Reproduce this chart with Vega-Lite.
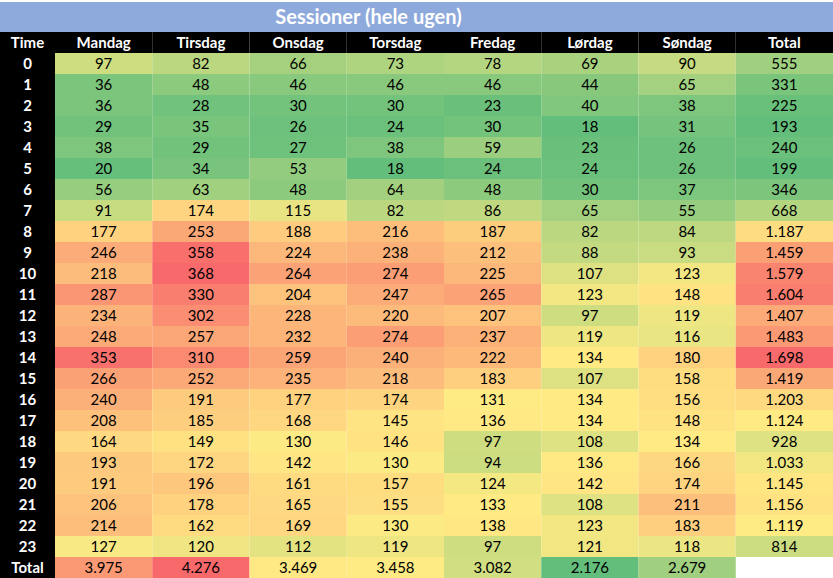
{
  "$schema": "https://vega.github.io/schema/vega-lite/v6.json",
  "background": "white",
  "padding": {"top": 2, "left": 0, "right": 0, "bottom": 0},
  "config": {
    "view": {"stroke": null},
    "font": "Lato",
    "locale": {"number": {"decimal": ",", "thousands": ".", "grouping": [3], "currency": ["", " kr"]}}
  },
  "datasets": {
    "tab": [
      {"row": "0", "Mandag": 97, "Tirsdag": 82, "Onsdag": 66, "Torsdag": 73, "Fredag": 78, "Lørdag": 69, "Søndag": 90, "Total": 555},
      {"row": "1", "Mandag": 36, "Tirsdag": 48, "Onsdag": 46, "Torsdag": 46, "Fredag": 46, "Lørdag": 44, "Søndag": 65, "Total": 331},
      {"row": "2", "Mandag": 36, "Tirsdag": 28, "Onsdag": 30, "Torsdag": 30, "Fredag": 23, "Lørdag": 40, "Søndag": 38, "Total": 225},
      {"row": "3", "Mandag": 29, "Tirsdag": 35, "Onsdag": 26, "Torsdag": 24, "Fredag": 30, "Lørdag": 18, "Søndag": 31, "Total": 193},
      {"row": "4", "Mandag": 38, "Tirsdag": 29, "Onsdag": 27, "Torsdag": 38, "Fredag": 59, "Lørdag": 23, "Søndag": 26, "Total": 240},
      {"row": "5", "Mandag": 20, "Tirsdag": 34, "Onsdag": 53, "Torsdag": 18, "Fredag": 24, "Lørdag": 24, "Søndag": 26, "Total": 199},
      {"row": "6", "Mandag": 56, "Tirsdag": 63, "Onsdag": 48, "Torsdag": 64, "Fredag": 48, "Lørdag": 30, "Søndag": 37, "Total": 346},
      {"row": "7", "Mandag": 91, "Tirsdag": 174, "Onsdag": 115, "Torsdag": 82, "Fredag": 86, "Lørdag": 65, "Søndag": 55, "Total": 668},
      {"row": "8", "Mandag": 177, "Tirsdag": 253, "Onsdag": 188, "Torsdag": 216, "Fredag": 187, "Lørdag": 82, "Søndag": 84, "Total": 1187},
      {"row": "9", "Mandag": 246, "Tirsdag": 358, "Onsdag": 224, "Torsdag": 238, "Fredag": 212, "Lørdag": 88, "Søndag": 93, "Total": 1459},
      {"row": "10", "Mandag": 218, "Tirsdag": 368, "Onsdag": 264, "Torsdag": 274, "Fredag": 225, "Lørdag": 107, "Søndag": 123, "Total": 1579},
      {"row": "11", "Mandag": 287, "Tirsdag": 330, "Onsdag": 204, "Torsdag": 247, "Fredag": 265, "Lørdag": 123, "Søndag": 148, "Total": 1604},
      {"row": "12", "Mandag": 234, "Tirsdag": 302, "Onsdag": 228, "Torsdag": 220, "Fredag": 207, "Lørdag": 97, "Søndag": 119, "Total": 1407},
      {"row": "13", "Mandag": 248, "Tirsdag": 257, "Onsdag": 232, "Torsdag": 274, "Fredag": 237, "Lørdag": 119, "Søndag": 116, "Total": 1483},
      {"row": "14", "Mandag": 353, "Tirsdag": 310, "Onsdag": 259, "Torsdag": 240, "Fredag": 222, "Lørdag": 134, "Søndag": 180, "Total": 1698},
      {"row": "15", "Mandag": 266, "Tirsdag": 252, "Onsdag": 235, "Torsdag": 218, "Fredag": 183, "Lørdag": 107, "Søndag": 158, "Total": 1419},
      {"row": "16", "Mandag": 240, "Tirsdag": 191, "Onsdag": 177, "Torsdag": 174, "Fredag": 131, "Lørdag": 134, "Søndag": 156, "Total": 1203},
      {"row": "17", "Mandag": 208, "Tirsdag": 185, "Onsdag": 168, "Torsdag": 145, "Fredag": 136, "Lørdag": 134, "Søndag": 148, "Total": 1124},
      {"row": "18", "Mandag": 164, "Tirsdag": 149, "Onsdag": 130, "Torsdag": 146, "Fredag": 97, "Lørdag": 108, "Søndag": 134, "Total": 928},
      {"row": "19", "Mandag": 193, "Tirsdag": 172, "Onsdag": 142, "Torsdag": 130, "Fredag": 94, "Lørdag": 136, "Søndag": 166, "Total": 1033},
      {"row": "20", "Mandag": 191, "Tirsdag": 196, "Onsdag": 161, "Torsdag": 157, "Fredag": 124, "Lørdag": 142, "Søndag": 174, "Total": 1145},
      {"row": "21", "Mandag": 206, "Tirsdag": 178, "Onsdag": 165, "Torsdag": 155, "Fredag": 133, "Lørdag": 108, "Søndag": 211, "Total": 1156},
      {"row": "22", "Mandag": 214, "Tirsdag": 162, "Onsdag": 169, "Torsdag": 130, "Fredag": 138, "Lørdag": 123, "Søndag": 183, "Total": 1119},
      {"row": "23", "Mandag": 127, "Tirsdag": 120, "Onsdag": 112, "Torsdag": 119, "Fredag": 97, "Lørdag": 121, "Søndag": 118, "Total": 814},
      {"row": "Total", "Mandag": 3975, "Tirsdag": 4276, "Onsdag": 3469, "Torsdag": 3458, "Fredag": 3082, "Lørdag": 2176, "Søndag": 2679}
    ],
    "hdr": [
      {"row": "Time", "col": "Mandag"}, {"row": "Time", "col": "Tirsdag"}, {"row": "Time", "col": "Onsdag"},
      {"row": "Time", "col": "Torsdag"}, {"row": "Time", "col": "Fredag"}, {"row": "Time", "col": "Lørdag"},
      {"row": "Time", "col": "Søndag"}, {"row": "Time", "col": "Total"}
    ]
  },
  "spacing": 0,
  "vconcat": [
    {
      "width": 833,
      "height": 30,
      "view": {"fill": "#8EA9DB", "stroke": null},
      "data": {"values": [{"t": "Sessioner (hele ugen)"}]},
      "mark": {"type": "text", "color": "white", "fontWeight": "bold", "fontSize": 20, "dx": -48, "dy": 1},
      "encoding": {"text": {"field": "t", "type": "nominal"}}
    },
    {
      "spacing": 0,
      "hconcat": [
        {
          "width": 55,
          "height": 546,
          "view": {"fill": "black", "stroke": null},
          "encoding": {
            "y": {"field": "row", "type": "nominal", "axis": null,
              "scale": {"domain": ["Time","0","1","2","3","4","5","6","7","8","9","10","11","12","13","14","15","16","17","18","19","20","21","22","23","Total"], "paddingInner": 0, "paddingOuter": 0}},
            "text": {"field": "row", "type": "nominal"}
          },
          "layer": [
            {"data": {"name": "tab"}, "mark": {"type": "text", "color": "white", "fontWeight": "bold", "fontSize": 15}},
            {"data": {"values": [{"row": "Time"}]}, "mark": {"type": "text", "color": "white", "fontWeight": "bold", "fontSize": 15}}
          ]
        },
        {
          "width": 778,
          "height": 546,
          "encoding": {
            "x": {"field": "col", "type": "nominal", "axis": null,
              "scale": {"domain": ["Mandag","Tirsdag","Onsdag","Torsdag","Fredag","Lørdag","Søndag","Total"], "paddingInner": 0, "paddingOuter": 0}},
            "y": {"field": "row", "type": "nominal", "axis": null,
              "scale": {"domain": ["Time","0","1","2","3","4","5","6","7","8","9","10","11","12","13","14","15","16","17","18","19","20","21","22","23","Total"], "paddingInner": 0, "paddingOuter": 0}}
          },
          "layer": [
            {"data": {"name": "hdr"}, "mark": {"type": "rect", "color": "black"}},
            {"data": {"name": "hdr"}, "mark": {"type": "text", "color": "white", "fontWeight": "bold", "fontSize": 15},
             "encoding": {"text": {"field": "col", "type": "nominal"}}},
            {"data": {"name": "tab"},
             "transform": [
               {"fold": ["Mandag","Tirsdag","Onsdag","Torsdag","Fredag","Lørdag","Søndag","Total"], "as": ["col", "value"]},
               {"filter": "datum.row != 'Total' && datum.col != 'Total'"}
             ],
             "mark": {"type": "rect"},
             "encoding": {"color": {"field": "value", "type": "quantitative", "legend": null,
               "scale": {"domain": [18, 132, 368], "range": ["#63BE7B", "#FFEB84", "#F8696B"], "interpolate": "rgb"}}}},
            {"data": {"name": "tab"},
             "transform": [
               {"fold": ["Mandag","Tirsdag","Onsdag","Torsdag","Fredag","Lørdag","Søndag","Total"], "as": ["col", "value"]},
               {"filter": "datum.row != 'Total' && datum.col == 'Total'"}
             ],
             "mark": {"type": "rect"},
             "encoding": {"color": {"field": "value", "type": "quantitative", "legend": null,
               "scale": {"domain": [193, 1121.5, 1698], "range": ["#63BE7B", "#FFEB84", "#F8696B"], "interpolate": "rgb"}}}},
            {"data": {"name": "tab"},
             "transform": [
               {"fold": ["Mandag","Tirsdag","Onsdag","Torsdag","Fredag","Lørdag","Søndag","Total"], "as": ["col", "value"]},
               {"filter": "datum.row == 'Total' && datum.col != 'Total'"}
             ],
             "mark": {"type": "rect"},
             "encoding": {"color": {"field": "value", "type": "quantitative", "legend": null,
               "scale": {"domain": [2176, 3458, 4276], "range": ["#63BE7B", "#FFEB84", "#F8696B"], "interpolate": "rgb"}}}},
            {"data": {"name": "tab"},
             "transform": [
               {"fold": ["Mandag","Tirsdag","Onsdag","Torsdag","Fredag","Lørdag","Søndag","Total"], "as": ["col", "value"]},
               {"filter": "isValid(datum.value)"}
             ],
             "mark": {"type": "text", "color": "#000000", "fontSize": 15},
             "encoding": {"text": {"field": "value", "type": "quantitative", "format": ",d"}}}
          ],
          "resolve": {"scale": {"color": "independent"}}
        }
      ]
    }
  ]
}
